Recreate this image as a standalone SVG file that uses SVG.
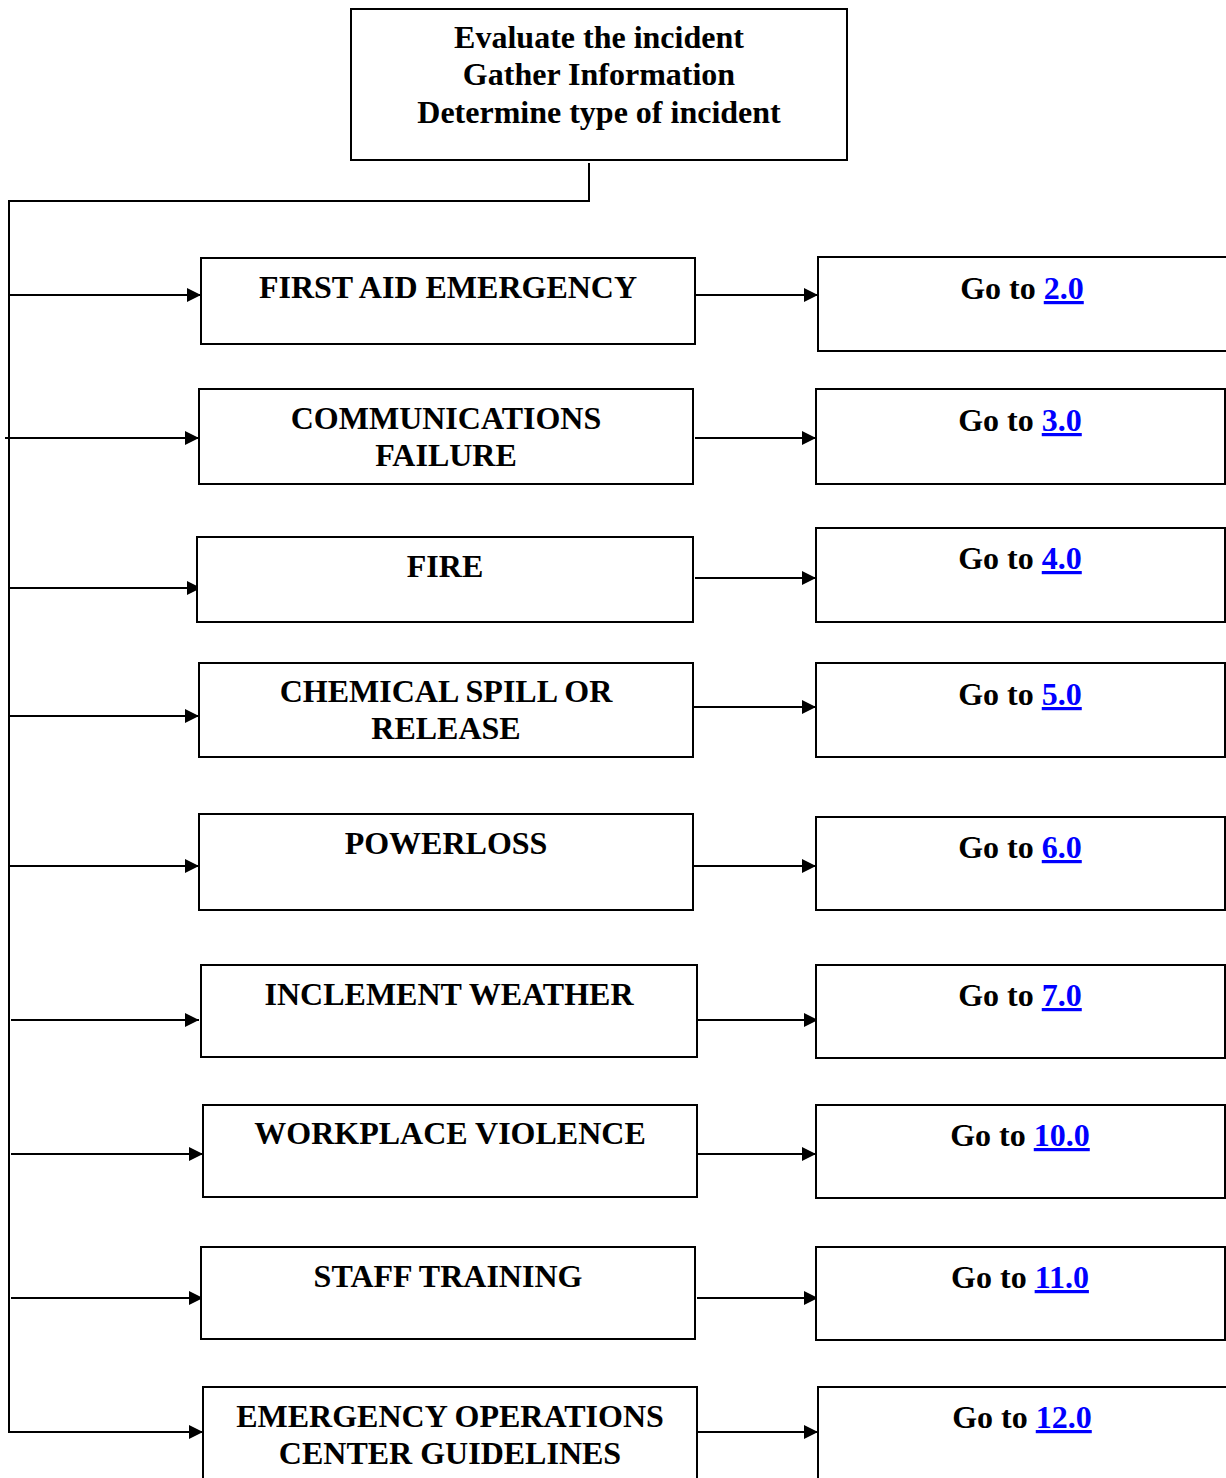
<svg xmlns="http://www.w3.org/2000/svg" width="1226" height="1478" viewBox="0 0 1226 1478">
<style>
.box{fill:#fff;stroke:#000;stroke-width:2}
.t{font-family:"Liberation Serif","Times New Roman",serif;font-weight:bold;font-size:32px;fill:#000;text-anchor:middle}
.lk{fill:#0000ff;text-decoration:underline}
.c{fill:none;stroke:#000;stroke-width:2}
</style>
<defs>
<marker id="ah" viewBox="0 0 14 14" refX="14" refY="7" markerWidth="14" markerHeight="14" markerUnits="userSpaceOnUse" orient="auto">
<path d="M0,0 L14,7 L0,14 Z" fill="#000"/>
</marker>
</defs>
<g id="connectors">
<path class="c" d="M589,163 V201 H9 V1433"/>
<line class="c" x1="9" y1="295" x2="201" y2="295" marker-end="url(#ah)"/>
<line class="c" x1="5" y1="438" x2="199" y2="438" marker-end="url(#ah)"/>
<line class="c" x1="9" y1="588" x2="201" y2="588" marker-end="url(#ah)"/>
<line class="c" x1="9" y1="716" x2="199" y2="716" marker-end="url(#ah)"/>
<line class="c" x1="9" y1="866" x2="199" y2="866" marker-end="url(#ah)"/>
<line class="c" x1="11" y1="1020" x2="199" y2="1020" marker-end="url(#ah)"/>
<line class="c" x1="11" y1="1154" x2="203" y2="1154" marker-end="url(#ah)"/>
<line class="c" x1="11" y1="1298" x2="203" y2="1298" marker-end="url(#ah)"/>
<line class="c" x1="9" y1="1432" x2="203" y2="1432" marker-end="url(#ah)"/>
<line class="c" x1="695" y1="295" x2="818" y2="295" marker-end="url(#ah)"/>
<line class="c" x1="695" y1="438" x2="816" y2="438" marker-end="url(#ah)"/>
<line class="c" x1="695" y1="578" x2="816" y2="578" marker-end="url(#ah)"/>
<line class="c" x1="693" y1="707" x2="816" y2="707" marker-end="url(#ah)"/>
<line class="c" x1="693" y1="866" x2="816" y2="866" marker-end="url(#ah)"/>
<line class="c" x1="697" y1="1020" x2="818" y2="1020" marker-end="url(#ah)"/>
<line class="c" x1="693" y1="1154" x2="816" y2="1154" marker-end="url(#ah)"/>
<line class="c" x1="697" y1="1298" x2="818" y2="1298" marker-end="url(#ah)"/>
<line class="c" x1="697" y1="1432" x2="818" y2="1432" marker-end="url(#ah)"/>
</g>
<g id="start">
<rect class="box" x="351" y="9" width="496" height="151"/>
<text class="t" x="599" y="48">Evaluate the incident</text>
<text class="t" x="599" y="85">Gather Information</text>
<text class="t" x="599" y="123">Determine type of incident</text>
</g>
<g id="first-aid">
<rect class="box" x="201" y="258" width="494" height="86"/>
<text class="t" x="448" y="298">FIRST AID EMERGENCY</text>
</g>
<g id="go-2">
<rect class="box" x="818" y="257" width="420" height="94"/>
<text class="t" x="1022" y="299">Go to <tspan class="lk">2.0</tspan></text>
</g>
<g id="comms">
<rect class="box" x="199" y="389" width="494" height="95"/>
<text class="t" x="446" y="429">COMMUNICATIONS</text>
<text class="t" x="446" y="466">FAILURE</text>
</g>
<g id="go-3">
<rect class="box" x="816" y="389" width="409" height="95"/>
<text class="t" x="1020" y="431">Go to <tspan class="lk">3.0</tspan></text>
</g>
<g id="fire">
<rect class="box" x="197" y="537" width="496" height="85"/>
<text class="t" x="445" y="577">FIRE</text>
</g>
<g id="go-4">
<rect class="box" x="816" y="528" width="409" height="94"/>
<text class="t" x="1020" y="569">Go to <tspan class="lk">4.0</tspan></text>
</g>
<g id="chemical">
<rect class="box" x="199" y="663" width="494" height="94"/>
<text class="t" x="446" y="702">CHEMICAL SPILL OR</text>
<text class="t" x="446" y="739">RELEASE</text>
</g>
<g id="go-5">
<rect class="box" x="816" y="663" width="409" height="94"/>
<text class="t" x="1020" y="705">Go to <tspan class="lk">5.0</tspan></text>
</g>
<g id="powerloss">
<rect class="box" x="199" y="814" width="494" height="96"/>
<text class="t" x="446" y="854">POWERLOSS</text>
</g>
<g id="go-6">
<rect class="box" x="816" y="817" width="409" height="93"/>
<text class="t" x="1020" y="858">Go to <tspan class="lk">6.0</tspan></text>
</g>
<g id="weather">
<rect class="box" x="201" y="965" width="496" height="92"/>
<text class="t" x="449" y="1005">INCLEMENT WEATHER</text>
</g>
<g id="go-7">
<rect class="box" x="816" y="965" width="409" height="93"/>
<text class="t" x="1020" y="1006">Go to <tspan class="lk">7.0</tspan></text>
</g>
<g id="violence">
<rect class="box" x="203" y="1105" width="494" height="92"/>
<text class="t" x="450" y="1144">WORKPLACE VIOLENCE</text>
</g>
<g id="go-10">
<rect class="box" x="816" y="1105" width="409" height="93"/>
<text class="t" x="1020" y="1146">Go to <tspan class="lk">10.0</tspan></text>
</g>
<g id="training">
<rect class="box" x="201" y="1247" width="494" height="92"/>
<text class="t" x="448" y="1287">STAFF TRAINING</text>
</g>
<g id="go-11">
<rect class="box" x="816" y="1247" width="409" height="93"/>
<text class="t" x="1020" y="1288">Go to <tspan class="lk">11.0</tspan></text>
</g>
<g id="eoc">
<rect class="box" x="203" y="1387" width="494" height="120"/>
<text class="t" x="450" y="1427">EMERGENCY OPERATIONS</text>
<text class="t" x="450" y="1464">CENTER GUIDELINES</text>
</g>
<g id="go-12">
<rect class="box" x="818" y="1387" width="420" height="120"/>
<text class="t" x="1022" y="1428">Go to <tspan class="lk">12.0</tspan></text>
</g>
</svg>
